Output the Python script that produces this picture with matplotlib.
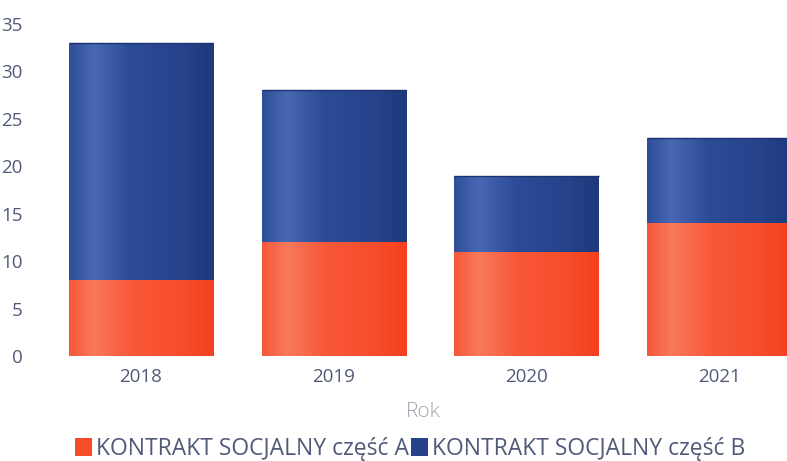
import numpy as np
import matplotlib.pyplot as plt
from matplotlib.colors import LinearSegmentedColormap
from matplotlib.patches import Patch

plt.rcParams["font.family"] = ["Open Sans", "DejaVu Sans"]

# ---- data ----
years = ["2018", "2019", "2020", "2021"]
part_a = [8, 12, 11, 14]
part_b = [25, 16, 8, 9]
labels = ["KONTRAKT SOCJALNY część A", "KONTRAKT SOCJALNY część B"]

# ---- colours (soft cylinder shading, left to right) ----
red_stops = ["#f65638", "#f9795d", "#f85a3a", "#f74b2a", "#f4401e"]
blue_stops = ["#2e4e9a", "#4868b3", "#2d4c97", "#25428a", "#1e3a7c"]
pos = [0, 0.17, 0.42, 0.8, 1]
red_cmap = LinearSegmentedColormap.from_list("red", list(zip(pos, red_stops)))
blue_cmap = LinearSegmentedColormap.from_list("blue", list(zip(pos, blue_stops)))

text_col = "#505a78"

fig = plt.figure(figsize=(7.87, 4.61), dpi=100)
ax = fig.add_axes([60 / 787, 0.2267, 1 - 60 / 787, 0.948 - 0.2267])

x = np.arange(len(years))
width = 0.75
bars_a = ax.bar(x, part_a, width, color=red_stops[2], label=labels[0])
bars_b = ax.bar(x, part_b, width, bottom=part_a, color=blue_stops[2], label=labels[1])

# gradient clipped to each bar
grad = np.linspace(0, 1, 256).reshape(1, -1)
for bars, cmap in ((bars_a, red_cmap), (bars_b, blue_cmap)):
    for p in bars:
        x0, y0 = p.get_x(), p.get_y()
        im = ax.imshow(grad, cmap=cmap, aspect="auto", interpolation="bicubic",
                       extent=[x0, x0 + p.get_width(), y0, y0 + p.get_height()], zorder=2)
        im.set_clip_path(p)

# thin dark edge on top of blue segments
for p in bars_b:
    ax.plot([p.get_x(), p.get_x() + p.get_width()], [p.get_y() + p.get_height()] * 2,
            color="#1c3270", lw=1.0, zorder=3, solid_capstyle="butt")

ax.set_xlim(-0.42, 3.35)
ax.set_ylim(0, 35)
ax.set_yticks(range(0, 36, 5))
ax.set_xticks(x)
ax.set_xticklabels(years)
for s in ax.spines.values():
    s.set_visible(False)
ax.tick_params(length=0, labelsize=13.5, colors=text_col)
ax.tick_params(axis="y", pad=27)
ax.tick_params(axis="x", pad=8)
for t in ax.get_yticklabels():
    t.set_horizontalalignment("right")

ax.set_xlabel("Rok", fontsize=15, color="#a0a2b0", fontweight="light", labelpad=12)

handles = [Patch(facecolor=red_stops[3], edgecolor="none"),
           Patch(facecolor=blue_stops[3], edgecolor="none")]
fig.legend(handles, labels, loc="center", bbox_to_anchor=(410 / 787, 1 - 449 / 461),
           ncol=2, frameon=False, fontsize=16.5, labelcolor=text_col,
           handlelength=0.75, handleheight=0.85, handletextpad=0.15, columnspacing=0.1)

fig.savefig("out.png", dpi=100)
